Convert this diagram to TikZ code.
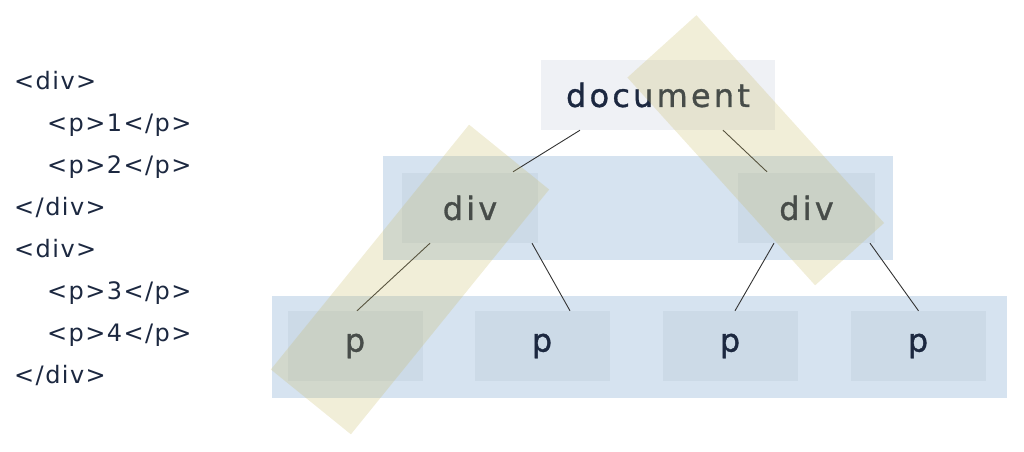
\documentclass[tikz,border=0pt]{standalone}
\usepackage{fontspec}
\newfontfamily\codefont[LetterSpace=6]{DejaVu Sans}
\newfontfamily\treefont[LetterSpace=10,FakeBold=1]{DejaVu Sans}
\definecolor{ink}{RGB}{28,40,64}
\definecolor{bandblue}{RGB}{214,227,240}
\definecolor{cellblue}{RGB}{204,218,231}
\definecolor{rootgray}{RGB}{239,241,245}
\definecolor{markyellow}{RGB}{200,186,100}
\begin{document}
\begin{tikzpicture}[x=1pt,y=-1pt,
  every node/.style={text=ink},
  codeline/.style={anchor=base west,inner sep=0pt,font=\codefont\fontsize{24}{24}\selectfont},
  treecell/.style={fill=cellblue,minimum height=70pt,inner sep=0pt,font=\treefont\fontsize{32}{32}\selectfont},
  link/.style={draw=black!80,line width=0.9pt},
  hilite/.style={fill=markyellow,fill opacity=0.25,inner sep=0pt}]
  \useasboundingbox (0,0) rectangle (1024,451);
  % source listing
  \node[codeline] (c1) at (14,89) {<div>};
  \node[codeline] (c2) at (47,131) {<p>1</p>};
  \node[codeline] (c3) at (47,173) {<p>2</p>};
  \node[codeline] (c4) at (14,215) {</div>};
  \node[codeline] (c5) at (14,257) {<div>};
  \node[codeline] (c6) at (47,299) {<p>3</p>};
  \node[codeline] (c7) at (47,341) {<p>4</p>};
  \node[codeline] (c8) at (14,383) {</div>};
  % levels
  \fill[bandblue] (383,156) rectangle (893,260);
  \fill[bandblue] (272,296) rectangle (1007,398);
  % tree
  \node[treecell,fill=rootgray,minimum width=234pt] (doc) at (658,95) {document};
  \node[treecell,minimum width=136pt] (div1) at (470,208) {div};
  \node[treecell,minimum width=137pt] (div2) at (806.5,208) {div};
  \node[treecell,minimum width=135pt] (p1) at (355,346) {p};
  \node[treecell,minimum width=135pt] (p2) at (542,346) {p};
  \node[treecell,minimum width=135pt] (p3) at (730,346) {p};
  \node[treecell,minimum width=135pt] (p4) at (918,346) {p};
  \draw[link] ([xshift=-78pt]doc.south) -- ([xshift=43pt,yshift=1pt]div1.north);
  \draw[link] ([xshift=65pt]doc.south) -- ([xshift=-39.5pt,yshift=1pt]div2.north);
  \draw[link] ([xshift=-40pt]div1.south) -- ([xshift=2pt]p1.north);
  \draw[link] ([xshift=62pt]div1.south) -- ([xshift=28pt]p2.north);
  \draw[link] ([xshift=-32.5pt]div2.south) -- ([xshift=5pt]p3.north);
  \draw[link] ([xshift=63.5pt]div2.south) -- ([xshift=0.5pt]p4.north);
  % highlighted paths
  \node[hilite,minimum width=315pt,minimum height=103pt,rotate=51] (mark1) at (410,279.5) {};
  \node[hilite,minimum width=280pt,minimum height=93pt,rotate=-47.9] (mark2) at (755.75,150.25) {};
\end{tikzpicture}
\end{document}
